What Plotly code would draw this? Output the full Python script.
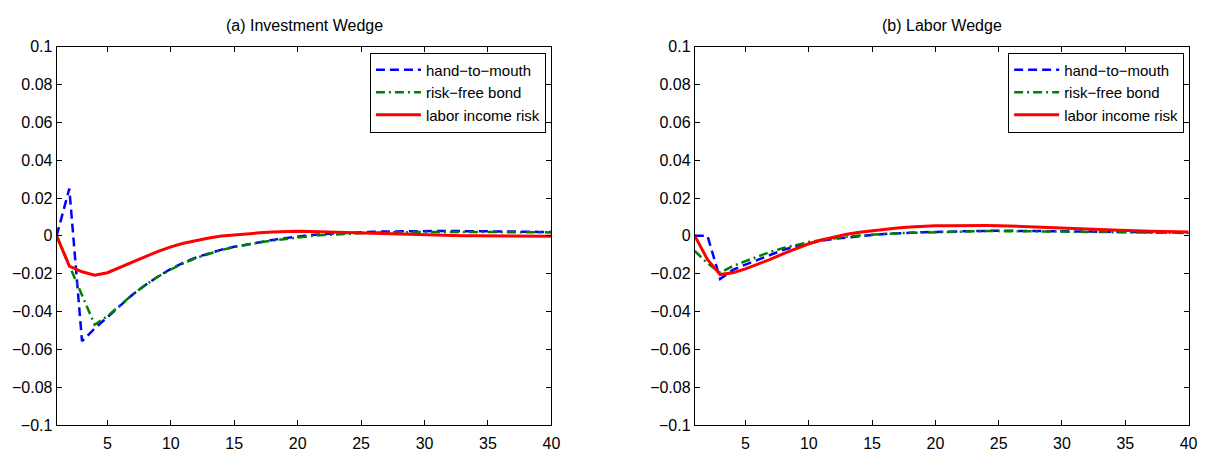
import plotly.graph_objects as go

periods = list(range(1, 41))

# (a) Investment wedge
inv_htm = [0, 0.025, -0.0557, -0.049, -0.043, -0.037, -0.031, -0.026, -0.0215, -0.0175,
           -0.0142, -0.0114, -0.0092, -0.0073, -0.0058, -0.0045, -0.0033, -0.0022, -0.0012, -0.0003,
           0.0004, 0.0009, 0.0013, 0.0017, 0.0020, 0.0022, 0.0023, 0.0024, 0.0025, 0.0025,
           0.0026, 0.0026, 0.0025, 0.0025, 0.0024, 0.0023, 0.0023, 0.0022, 0.0021, 0.0021]
inv_rfb = [0, -0.016, -0.032, -0.047, -0.0425, -0.0365, -0.031, -0.026, -0.0215, -0.0178,
           -0.0145, -0.0117, -0.0094, -0.0075, -0.0059, -0.0046, -0.0035, -0.0025, -0.0016, -0.0008,
           -0.0001, 0.0004, 0.0008, 0.0012, 0.0015, 0.0017, 0.0019, 0.0020, 0.0021, 0.0021,
           0.0021, 0.0021, 0.0021, 0.0020, 0.0020, 0.0020, 0.0019, 0.0019, 0.0019, 0.0018]
inv_lir = [0, -0.016, -0.019, -0.0208, -0.0195, -0.0168, -0.0139, -0.0110, -0.0082, -0.0058,
           -0.0039, -0.0023, -0.0011, -0.0001, 0.0006, 0.0012, 0.0016, 0.0020, 0.0023, 0.0024,
           0.0023, 0.0021, 0.0019, 0.0017, 0.0015, 0.0012, 0.0010, 0.0008, 0.0006, 0.0004,
           0.0003, 0.0002, 0.0001, 0.0, 0.0, -0.0001, -0.0001, -0.0002, -0.0002, -0.0002]

# (b) Labor wedge
lab_htm = [0, 0, -0.0228, -0.018, -0.0152, -0.0125, -0.0098, -0.0074, -0.0054, -0.0038,
           -0.0026, -0.0016, -0.0008, -0.0001, 0.0005, 0.0010, 0.0014, 0.0017, 0.0019, 0.0021,
           0.0023, 0.0024, 0.0025, 0.0026, 0.0027, 0.0027, 0.0027, 0.0026, 0.0026, 0.0025,
           0.0024, 0.0023, 0.0022, 0.0021, 0.0021, 0.0020, 0.0019, 0.0018, 0.0018, 0.0017]
lab_rfb = [-0.008, -0.0145, -0.0195, -0.016, -0.0134, -0.0108, -0.0084, -0.0064, -0.0047, -0.0033,
           -0.0022, -0.0012, -0.0004, 0.0002, 0.0007, 0.0011, 0.0014, 0.0016, 0.0018, 0.0020,
           0.0021, 0.0023, 0.0024, 0.0025, 0.0025, 0.0025, 0.0025, 0.0024, 0.0024, 0.0023,
           0.0022, 0.0021, 0.0021, 0.0020, 0.0019, 0.0018, 0.0017, 0.0017, 0.0016, 0.0015]
lab_lir = [0, -0.0125, -0.0205, -0.0195, -0.0175, -0.015, -0.0123, -0.0094, -0.0066, -0.0042,
           -0.0022, -0.0006, 0.0008, 0.0019, 0.0028, 0.0036, 0.0042, 0.0047, 0.0051, 0.0053,
           0.0054, 0.0055, 0.0055, 0.0055, 0.0054, 0.0052, 0.0050, 0.0048, 0.0046, 0.0044,
           0.0041, 0.0037, 0.0034, 0.0031, 0.0028, 0.0026, 0.0024, 0.0023, 0.0022, 0.0021]

series_names = ["hand\u2212to\u2212mouth", "risk\u2212free bond", "labor income risk"]
panel_titles = ["(a) Investment Wedge", "(b) Labor Wedge"]
x_ticks = [5, 10, 15, 20, 25, 30, 35, 40]
y_ticks = [0.1, 0.08, 0.06, 0.04, 0.02, 0, -0.02, -0.04, -0.06, -0.08, -0.1]
y_ticklabels = ["0.1", "0.08", "0.06", "0.04", "0.02", "0", "\u22120.02", "\u22120.04",
                "\u22120.06", "\u22120.08", "\u22120.1"]

# the page body has an 8px margin; figure is sized to fit the window
OFF = 8
W, H = 1210 - OFF, 457 - OFF
FONT = "Liberation Sans, Arial, Helvetica, sans-serif"
styles = [
    dict(color="#0000FF", width=2.5, dash="9px,5px"),
    dict(color="#008000", width=2.5, dash="9px,4px,2px,4px"),
    dict(color="#FF0000", width=3, dash="solid"),
]

fig = go.Figure()
panels = [(inv_htm, inv_rfb, inv_lir), (lab_htm, lab_rfb, lab_lir)]
for p, data in enumerate(panels):
    xa = "x" if p == 0 else "x2"
    ya = "y" if p == 0 else "y2"
    lg = "legend" if p == 0 else "legend2"
    for name, ys, st in zip(series_names, data, styles):
        fig.add_trace(go.Scatter(x=periods, y=ys, mode="lines", name=name,
                                 line=st, xaxis=xa, yaxis=ya, legend=lg))


def px_x(v):
    return (v - OFF) / W


def px_y(v):
    return 1 - (v - OFF) / H


left_dom = [px_x(57), px_x(555.5)]
right_dom = [px_x(700), px_x(1197.5)]
y_dom = [px_y(433), px_y(40)]

axis_common = dict(showline=True, linecolor="black", linewidth=1, mirror="ticks",
                   ticks="inside", ticklen=5, tickcolor="black", showgrid=False,
                   zeroline=False, tickfont=dict(family=FONT, size=16, color="black"))

xa_common = dict(axis_common, range=[1, 40], tickvals=x_ticks, ticklabelstandoff=4)
ya_common = dict(axis_common, range=[-0.1, 0.1], tickvals=y_ticks, ticktext=y_ticklabels)

legend_common = dict(bgcolor="white", bordercolor="black", borderwidth=1,
                     font=dict(family=FONT, size=15, color="black"),
                     xanchor="right", yanchor="top", yref="paper", xref="paper",
                     itemwidth=45, tracegroupgap=0)

fig.update_layout(
    width=W, height=H,
    margin=dict(l=0, r=0, t=0, b=0),
    paper_bgcolor="white", plot_bgcolor="white",
    showlegend=True,
    xaxis=dict(xa_common, domain=left_dom, anchor="y"),
    yaxis=dict(ya_common, domain=y_dom, anchor="x"),
    xaxis2=dict(xa_common, domain=right_dom, anchor="y2"),
    yaxis2=dict(ya_common, domain=y_dom, anchor="x2"),
    legend=dict(legend_common, x=px_x(550), y=px_y(46)),
    legend2=dict(legend_common, x=px_x(1193), y=px_y(46)),
    annotations=[
        dict(text=panel_titles[0], x=(left_dom[0] + left_dom[1]) / 2, y=px_y(18),
             xref="paper", yref="paper", showarrow=False, xanchor="center", yanchor="middle",
             font=dict(family=FONT, size=16, color="black")),
        dict(text=panel_titles[1], x=(right_dom[0] + right_dom[1]) / 2, y=px_y(18),
             xref="paper", yref="paper", showarrow=False, xanchor="center", yanchor="middle",
             font=dict(family=FONT, size=16, color="black")),
    ],
)

fig.write_html("out.html")
